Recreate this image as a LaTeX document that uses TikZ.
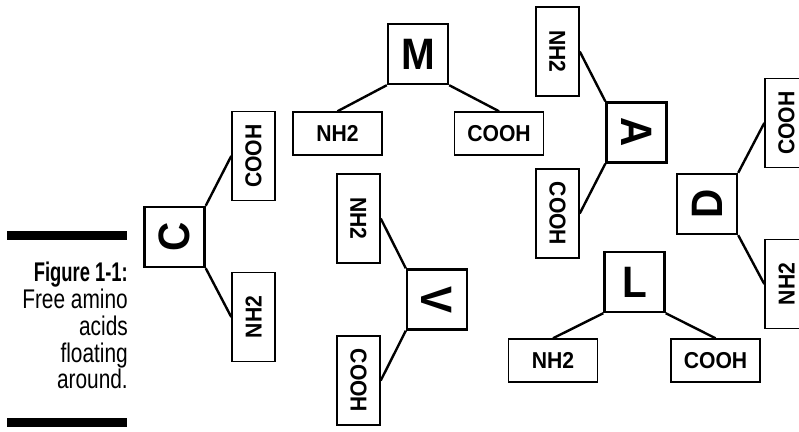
\documentclass[tikz,border=0pt]{standalone}
\usepackage{fontspec}
\setmainfont{Liberation Sans}[FakeStretch=0.92]
\newcommand{\capregtxt}[1]{\scalebox{0.84}[1]{#1}}
\newcommand{\capboldtxt}[1]{\scalebox{0.74}[1]{#1}}
\tikzset{
  big/.style={draw, line width=2.4pt, minimum width=60pt, minimum height=60pt, inner sep=0pt,
    font=\fontsize{44}{44}\selectfont\bfseries},
  hbox/.style={draw, line width=1.5pt, minimum width=89pt, minimum height=43pt, inner sep=0pt,
    font=\fontsize{23}{23}\selectfont\bfseries},
  vbox/.style={hbox, minimum width=43pt, minimum height=89pt},
  link/.style={line width=2.4pt},
  capb/.style={anchor=base east, inner sep=0pt, font=\fontsize{27}{28}\selectfont\bfseries},
  capr/.style={anchor=base east, inner sep=0pt, font=\fontsize{27}{28}\selectfont},
  bar/.style={fill=black}
}
\begin{document}
\begin{tikzpicture}[x=1pt,y=-1pt]
\useasboundingbox (0,0) rectangle (799,431);
% caption
\fill[bar] (7,231) rectangle (127,240);
\fill[bar] (7,418) rectangle (127,427);
\node[capb] (cap1) at (128,281) {\capboldtxt{Figure 1-1:}};
\node[capr] (cap2) at (128,308) {\capregtxt{Free amino}};
\node[capr] (cap3) at (128,335) {\capregtxt{acids}};
\node[capr] (cap4) at (128,362) {\capregtxt{floating}};
\node[capr] (cap5) at (128,388) {\capregtxt{around.}};
% M
\node[big] (m) at (418,54) {M};
\node[hbox] (mn) at (337.5,133.5) {NH2};
\node[hbox] (mc) at (499,133.5) {COOH};
\draw[link] (m.south west) -- (mn.north);
\draw[link] (m.south east) -- (mc.north);
% C
\node[big] (c) at (174.5,237) {\rotatebox{90}{C}};
\node[vbox] (cc) at (253.5,156) {\rotatebox{90}{COOH}};
\node[vbox] (cn) at (253.5,317) {\rotatebox{90}{NH2}};
\draw[link] (c.north east) -- (cc.west);
\draw[link] (c.south east) -- (cn.west);
% V
\node[big] (v) at (437,299.5) {\rotatebox{-90}{V}};
\node[vbox] (vn) at (358.5,218.5) {\rotatebox{-90}{NH2}};
\node[vbox] (vc) at (358.5,380.5) {\rotatebox{-90}{COOH}};
\draw[link] (v.north west) -- (vn.east);
\draw[link] (v.south west) -- (vc.east);
% A
\node[big] (a) at (636.5,132.5) {\rotatebox{-90}{A}};
\node[vbox] (an) at (557.5,51.5) {\rotatebox{-90}{NH2}};
\node[vbox] (ac) at (557.5,213.5) {\rotatebox{-90}{COOH}};
\draw[link] (a.north west) -- (an.east);
\draw[link] (a.south west) -- (ac.east);
% D
\node[big] (d) at (707,204) {\rotatebox{90}{D}};
\node[vbox] (dc) at (786.5,123) {\rotatebox{90}{COOH}};
\node[vbox] (dn) at (786.5,284) {\rotatebox{90}{NH2}};
\draw[link] (d.north east) -- (dc.west);
\draw[link] (d.south east) -- (dn.west);
% L
\node[big] (l) at (634.5,282) {L};
\node[hbox] (ln) at (553,360.5) {NH2};
\node[hbox] (lc) at (715.5,360.5) {COOH};
\draw[link] (l.south west) -- (ln.north);
\draw[link] (l.south east) -- (lc.north);
\end{tikzpicture}
\end{document}
